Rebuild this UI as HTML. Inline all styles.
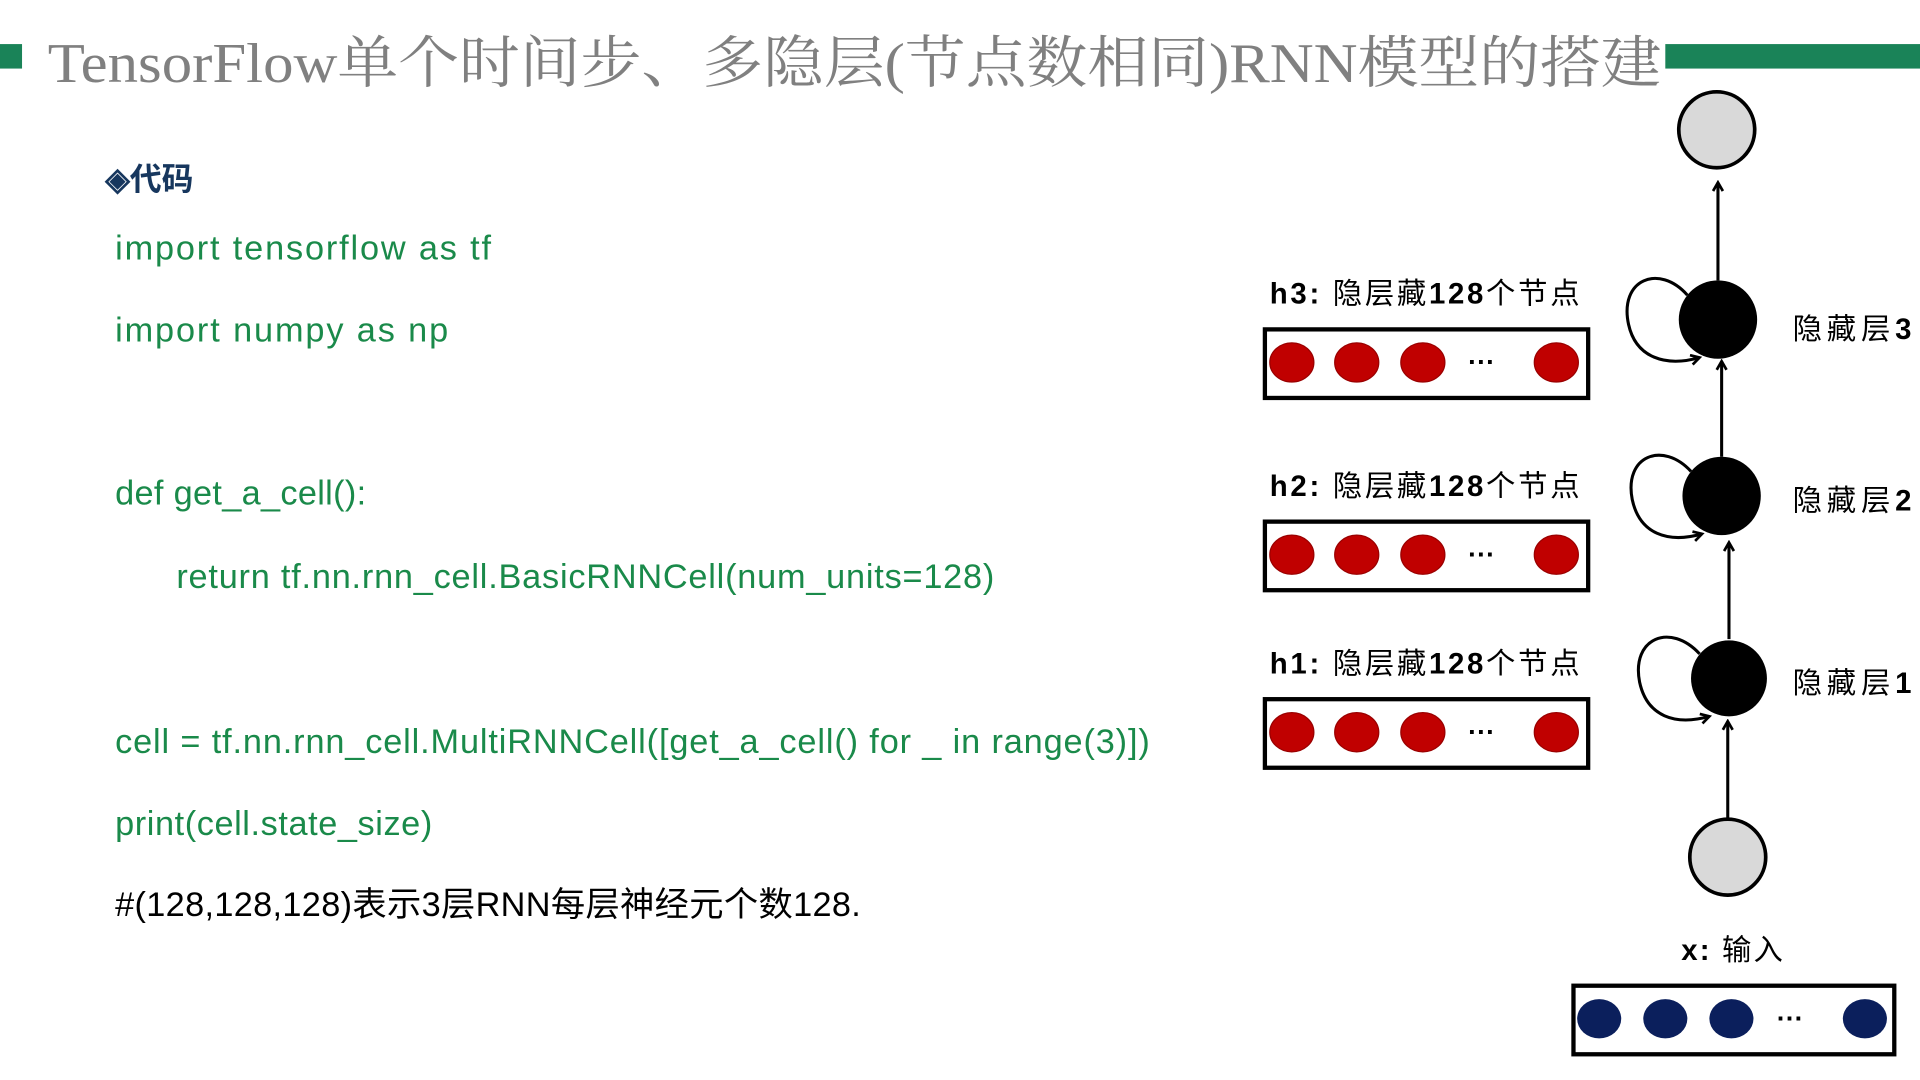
<!DOCTYPE html>
<html><head><meta charset="utf-8"><style>html,body{margin:0;padding:0;background:#fff;overflow:hidden}svg{display:block}</style></head>
<body>
<svg width="1920" height="1080" viewBox="0 0 1568 882" xmlns="http://www.w3.org/2000/svg">
<defs><marker id="a" markerWidth="10" markerHeight="10" refX="8" refY="5" orient="auto" markerUnits="userSpaceOnUse"><path d="M1,1 L8,5 L1,9" fill="none" stroke="#000" stroke-width="2.2"/></marker></defs>
<rect x="0" y="36" width="18" height="20" fill="#1a8358"/>
<rect x="1360" y="36" width="208" height="20" fill="#1a8358"/>
<text x="39" y="67" font-family="Liberation Serif, Noto Serif CJK SC, serif" font-size="46" fill="#808080" textLength="1318" lengthAdjust="spacingAndGlyphs">TensorFlow单个时间步、多隐层(节点数相同)RNN模型的搭建</text>
<g font-family="Liberation Sans, Noto Sans CJK SC, sans-serif">
<text x="86" y="155" font-size="26" font-weight="bold" fill="#17375e">◈代码</text>
<g font-size="28" fill="#1a8a4a" lengthAdjust="spacingAndGlyphs">
<text x="94" y="212" textLength="307">import tensorflow as tf</text>
<text x="94" y="279" textLength="272">import numpy as np</text>
<text x="94" y="412" textLength="205">def get_a_cell():</text>
<text x="144" y="480" textLength="668">return tf.nn.rnn_cell.BasicRNNCell(num_units=128)</text>
<text x="94" y="615" textLength="845">cell = tf.nn.rnn_cell.MultiRNNCell([get_a_cell()  for _ in range(3)])</text>
<text x="94" y="682" textLength="259">print(cell.state_size)</text>
</g>
<text x="94" y="748" font-size="28" fill="#000" textLength="609">#(128,128,128)表示3层RNN每层神经元个数128.</text>
<g font-size="24" fill="#000">
<text x="1037" y="248" textLength="253"><tspan font-weight="bold">h3:</tspan> 隐层藏<tspan font-weight="bold">128</tspan>个节点</text>
<text x="1037" y="405" textLength="253"><tspan font-weight="bold">h2:</tspan> 隐层藏<tspan font-weight="bold">128</tspan>个节点</text>
<text x="1037" y="550" textLength="253"><tspan font-weight="bold">h1:</tspan> 隐层藏<tspan font-weight="bold">128</tspan>个节点</text>
<text x="1373" y="784" textLength="83"><tspan font-weight="bold">x:</tspan> 输入</text>
<text x="1464" y="277" textLength="97">隐藏层<tspan font-weight="bold">3</tspan></text>
<text x="1464" y="417" textLength="97">隐藏层<tspan font-weight="bold">2</tspan></text>
<text x="1464" y="566" textLength="97">隐藏层<tspan font-weight="bold">1</tspan></text>
</g>
</g>
<g fill="none" stroke="#000" stroke-width="3.5">
<rect x="1033" y="269" width="264" height="56"/>
<rect x="1033" y="426" width="264" height="56"/>
<rect x="1033" y="571" width="264" height="56"/>
<rect x="1285" y="805" width="262" height="56"/>
</g>
<g fill="#c00000" stroke="#9a0000" stroke-width="1">
<ellipse cx="1055" cy="296" rx="18" ry="16"/><ellipse cx="1108" cy="296" rx="18" ry="16"/><ellipse cx="1162" cy="296" rx="18" ry="16"/><ellipse cx="1271" cy="296" rx="18" ry="16"/>
<ellipse cx="1055" cy="453" rx="18" ry="16"/><ellipse cx="1108" cy="453" rx="18" ry="16"/><ellipse cx="1162" cy="453" rx="18" ry="16"/><ellipse cx="1271" cy="453" rx="18" ry="16"/>
<ellipse cx="1055" cy="598" rx="18" ry="16"/><ellipse cx="1108" cy="598" rx="18" ry="16"/><ellipse cx="1162" cy="598" rx="18" ry="16"/><ellipse cx="1271" cy="598" rx="18" ry="16"/>
</g>
<g fill="#0b1f5c">
<ellipse cx="1306" cy="832" rx="18" ry="16"/><ellipse cx="1360" cy="832" rx="18" ry="16"/><ellipse cx="1414" cy="832" rx="18" ry="16"/><ellipse cx="1523" cy="832" rx="18" ry="16"/>
</g>
<g font-family="Liberation Sans, sans-serif" font-size="22" font-weight="bold" fill="#000">
<text x="1199" y="303">···</text><text x="1199" y="460">···</text><text x="1199" y="605">···</text><text x="1451" y="839">···</text>
</g>
<g fill="#d9d9d9" stroke="#000" stroke-width="3">
<circle cx="1402" cy="106" r="31"/><circle cx="1411" cy="700" r="31"/>
</g>
<g fill="#000">
<circle cx="1403" cy="261" r="32"/><circle cx="1406" cy="405" r="32"/><circle cx="1412" cy="554" r="31"/>
</g>
<g fill="none" stroke="#000" stroke-width="2.5" marker-end="url(#a)">
<line x1="1411" y1="668" x2="1411" y2="589"/>
<line x1="1412" y1="522" x2="1412" y2="443"/>
<line x1="1406" y1="373" x2="1406" y2="295"/>
<line x1="1403" y1="229" x2="1403" y2="149"/>
<path d="M1378,241 C1355,215 1322,228 1330,265 C1336,292 1360,300 1388,292"/>
<path d="M1381,385 C1358,360 1326,372 1333,408 C1339,436 1362,444 1390,436"/>
<path d="M1388,534 C1364,508 1332,521 1339,557 C1345,585 1368,593 1396,585"/>
</g>
</svg>
</body></html>
